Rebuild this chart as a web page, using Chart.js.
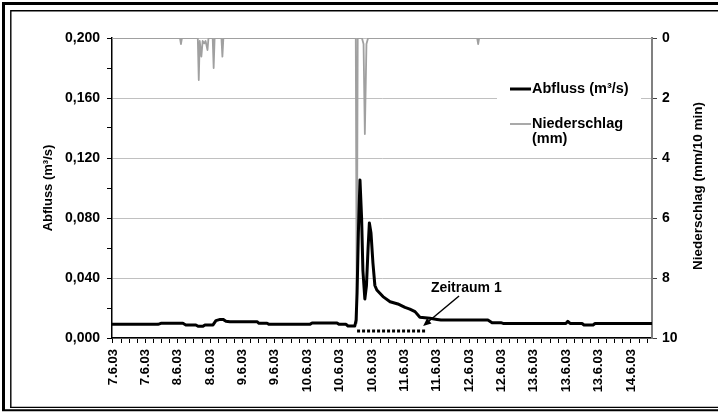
<!DOCTYPE html>
<html>
<head>
<meta charset="utf-8">
<script src="https://cdn.jsdelivr.net/npm/chart.js@4.4.1/dist/chart.umd.min.js"></script>
<style>
  html, body { margin: 0; padding: 0; background: #fff; }
  #wrap { width: 718px; height: 412px; position: relative; }
</style>
</head>
<body>
<div id="wrap"><canvas id="chart"></canvas></div>
<script>
// x values are in label steps: 0 = first "7.6.03" label, 1 = second label, ...
const dateLabels = ['7.6.03', '7.6.03', '8.6.03', '8.6.03', '9.6.03', '9.6.03', '10.6.03', '10.6.03', '10.6.03',
    '11.6.03', '11.6.03', '12.6.03', '12.6.03', '13.6.03', '13.6.03', '13.6.03', '14.6.03'];

// Abfluss (m³/s)
const abflussX = [-0.03, 1.39, 1.48, 2.16, 2.25, 2.56, 2.63, 2.78, 2.84, 3.09, 3.18, 3.31, 3.40, 3.49, 3.61,
    4.45, 4.51, 4.76, 4.82, 6.08, 6.15, 6.92, 6.98, 7.20, 7.26, 7.47, 7.51, 7.54, 7.58, 7.63, 7.68, 7.72,
    7.78, 7.83, 7.88, 7.92, 7.97, 8.03, 8.09, 8.15, 8.34, 8.56, 8.80, 9.02, 9.17, 9.33, 9.48, 9.79, 10.01,
    10.13, 11.58, 11.71, 11.98, 12.05, 13.99, 14.05, 14.12, 14.49, 14.55, 14.83, 14.89, 16.65];
const abflussY = [0.0091, 0.0091, 0.0098, 0.0098, 0.0087, 0.0087, 0.0078, 0.0078, 0.0087, 0.0087, 0.0116, 0.0124,
    0.0124, 0.0112, 0.0109, 0.0109, 0.0098, 0.0098, 0.0091, 0.0091, 0.0100, 0.0100, 0.0091, 0.0091, 0.0080,
    0.0080, 0.0120, 0.0300, 0.0700, 0.1053, 0.0800, 0.0450, 0.0260, 0.0350, 0.0600, 0.0767, 0.0700, 0.0500,
    0.0350, 0.0320, 0.0276, 0.0242, 0.0227, 0.0204, 0.0193, 0.0176, 0.0138, 0.0131, 0.0124, 0.0120, 0.0120,
    0.0102, 0.0102, 0.0097, 0.0097, 0.0111, 0.0097, 0.0097, 0.0087, 0.0087, 0.0097, 0.0097];

// Niederschlag (mm/10 min)
const regenX = [-0.03, 2.07, 2.10, 2.13, 2.62, 2.65, 2.68, 2.73, 2.77, 2.82, 2.86, 2.92, 2.95, 3.08, 3.11, 3.14,
    3.35, 3.38, 3.41, 7.50, 7.53, 7.56, 7.69, 7.74, 7.78, 7.83, 7.88, 11.25, 11.28, 11.31, 16.65];
const regenY = [0, 0, 0.2, 0, 0, 1.4, 0.1, 0.62, 0.1, 0.18, 0.1, 0.4, 0, 0, 1.0, 0,
    0, 0.62, 0, 0, 9.5, 0, 0, 0.2, 3.2, 0.2, 0, 0, 0.2, 0, 0];

// Zeitraum 1 (marked period)
const zeitraumX = [7.54, 9.67];
const zeitraumY = 0.0047;
const zeitraumText = 'Zeitraum 1';
const arrowStart = { x: 10.69, y: 0.028 };
const arrowEnd = { x: 9.58, y: 0.008 };
const textAt = { x: 9.82, y: 0.0333 };

const abflussTicks = [0, 0.04, 0.08, 0.12, 0.16, 0.2];
const regenTicks = [0, 2, 4, 6, 8, 10];

const FONT = '"Liberation Sans", Arial, sans-serif';

const toPoints = (xs, ys) => xs.map((x, i) => ({ x: x, y: ys[i] }));

// double frame round the chart (right side runs off the picture)
const framePlugin = {
    id: 'frame',
    afterDraw(chart) {
        const c = chart.ctx;
        c.save();
        c.strokeStyle = '#000';
        c.lineWidth = 3;
        c.beginPath();
        c.moveTo(3.5, 411); c.lineTo(3.5, 3.5); c.lineTo(718, 3.5);
        c.stroke();
        c.lineWidth = 2;
        c.beginPath(); c.moveTo(2, 410.3); c.lineTo(718, 410.3); c.stroke();
        c.lineWidth = 1.4;
        c.beginPath();
        c.moveTo(10.8, 407.3); c.lineTo(10.8, 10.8); c.lineTo(718, 10.8);
        c.stroke();
        c.lineWidth = 1.2;
        c.beginPath(); c.moveTo(10, 407.3); c.lineTo(718, 407.3); c.stroke();
        c.restore();
    }
};

// axis titles, both read bottom-to-top
const titlePlugin = {
    id: 'axisTitles',
    afterDraw(chart) {
        const c = chart.ctx;
        const a = chart.chartArea;
        const mid = (a.top + a.bottom) / 2;
        [['Abfluss (m³/s)', 48, 13, mid], ['Niederschlag (mm/10 min)', 698, 13.5, mid - 2]].forEach(([txt, x, size, y]) => {
            c.save();
            c.fillStyle = '#000';
            c.textAlign = 'center';
            c.textBaseline = 'middle';
            c.font = 'bold ' + size + 'px ' + FONT;
            c.translate(x, y);
            c.rotate(-Math.PI / 2);
            c.fillText(txt, 0, 0);
            c.restore();
        });
    }
};

// legend box inside the plot
const legendPlugin = {
    id: 'boxLegend',
    afterDraw(chart) {
        const c = chart.ctx;
        const ds = chart.data.datasets;
        c.save();
        c.fillStyle = '#fff';
        c.fillRect(497, 78, 144, 70);
        c.font = 'bold 14.5px ' + FONT;
        c.textBaseline = 'middle';
        c.textAlign = 'left';
        const rows = [{ y: 89, d: ds[0] }, { y: 124, d: ds[1] }];
        rows.forEach(r => {
            c.strokeStyle = r.d.borderColor;
            c.lineWidth = r.d.borderWidth;
            c.beginPath(); c.moveTo(510, r.y); c.lineTo(531, r.y); c.stroke();
            c.fillStyle = '#000';
            // wrap long labels onto a second line
            const words = r.d.label.split(' ');
            let line = '', lines = [];
            words.forEach(w => {
                const t = line ? line + ' ' + w : w;
                if (c.measureText(t).width > 105 && line) { lines.push(line); line = w; } else line = t;
            });
            lines.push(line);
            lines.forEach((l, i) => c.fillText(l, 532, r.y + i * 14.5));
        });
        c.restore();
    }
};

// "Zeitraum 1" text and arrow
const notePlugin = {
    id: 'note',
    afterDatasetsDraw(chart) {
        const c = chart.ctx;
        const xs = chart.scales.x, ys = chart.scales.y;
        const x0 = xs.getPixelForValue(arrowStart.x), y0 = ys.getPixelForValue(arrowStart.y);
        const x1 = xs.getPixelForValue(arrowEnd.x), y1 = ys.getPixelForValue(arrowEnd.y);
        const ang = Math.atan2(y1 - y0, x1 - x0);
        c.save();
        c.strokeStyle = '#000';
        c.fillStyle = '#000';
        c.lineWidth = 1.5;
        c.beginPath();
        c.moveTo(x0, y0);
        c.lineTo(x1 - 5 * Math.cos(ang), y1 - 5 * Math.sin(ang));
        c.stroke();
        c.beginPath();
        c.moveTo(x1, y1);
        c.lineTo(x1 - 8 * Math.cos(ang) + 3.5 * Math.sin(ang), y1 - 8 * Math.sin(ang) - 3.5 * Math.cos(ang));
        c.lineTo(x1 - 8 * Math.cos(ang) - 3.5 * Math.sin(ang), y1 - 8 * Math.sin(ang) + 3.5 * Math.cos(ang));
        c.closePath();
        c.fill();
        c.font = 'bold 14px ' + FONT;
        c.textAlign = 'left';
        c.textBaseline = 'middle';
        c.fillText(zeitraumText, xs.getPixelForValue(textAt.x), ys.getPixelForValue(textAt.y));
        c.restore();
    }
};

const isMajor = v => Math.round(v * 50) % 2 === 0;

const chart = new Chart(document.getElementById('chart'), {
    type: 'line',
    data: {
        datasets: [
            {
                label: 'Abfluss (m³/s)',
                data: toPoints(abflussX, abflussY),
                borderColor: '#000',
                borderWidth: 3,
                yAxisID: 'y'
            },
            {
                label: 'Niederschlag (mm)',
                data: toPoints(regenX, regenY),
                borderColor: '#a0a0a0',
                borderWidth: 1.8,
                yAxisID: 'y2'
            },
            {
                label: zeitraumText,
                data: zeitraumX.map(x => ({ x: x, y: zeitraumY })),
                borderColor: '#000',
                borderWidth: 3,
                borderDash: [3, 2],
                borderCapStyle: 'butt',
                yAxisID: 'y'
            }
        ]
    },
    options: {
        responsive: true, maintainAspectRatio: false,
        animation: false,
        layout: { padding: { top: 38, left: 0, right: 0, bottom: 0 } },
        elements: {
            point: { radius: 0, hoverRadius: 0 },
            line: { tension: 0, borderJoinStyle: 'round' }
        },
        plugins: {
            legend: { display: false },
            tooltip: { enabled: false }
        },
        scales: {
            x: {
                type: 'linear',
                min: -0.03, max: 16.65,
                afterBuildTicks(scale) {
                    const t = [];
                    for (let i = 0; i <= (dateLabels.length - 1) * 4 + 2; i++) t.push({ value: i / 4 });
                    scale.ticks = t;
                },
                afterFit(scale) { scale.height = 74; },
                ticks: {
                    autoSkip: false,
                    maxRotation: 90, minRotation: 90,
                    padding: 6,
                    color: '#000',
                    font: { family: FONT, size: 13, weight: 'bold' },
                    callback: v => Number.isInteger(v) ? dateLabels[v] : ''
                },
                grid: { drawOnChartArea: false, drawTicks: true, tickLength: 5, tickColor: '#000', tickWidth: 1 },
                border: { color: '#000', width: 1.5 }
            },
            y: {
                position: 'left',
                min: 0, max: 0.2,
                afterBuildTicks(scale) {
                    const t = [];
                    for (let i = 0; i <= 10; i++) t.push({ value: i / 50 });
                    scale.ticks = t;
                },
                afterFit(scale) { scale.width = 112; },
                ticks: {
                    padding: 7,
                    color: '#000',
                    font: { family: FONT, size: 14, weight: 'bold' },
                    callback: v => abflussTicks.some(t => Math.abs(t - v) < 1e-9) ? v.toFixed(3).replace('.', ',') : ''
                },
                grid: {
                    color: ctx => (ctx.tick && isMajor(ctx.tick.value) ? '#c0c0c0' : 'rgba(0,0,0,0)'),
                    lineWidth: 1,
                    tickLength: 5,
                    tickColor: '#000'
                },
                border: { color: '#000', width: 1.5 }
            },
            y2: {
                position: 'right',
                reverse: true,
                min: regenTicks[0], max: regenTicks[regenTicks.length - 1],
                afterFit(scale) { scale.width = 66; },
                ticks: {
                    stepSize: 2,
                    padding: 5,
                    color: '#000',
                    font: { family: FONT, size: 14, weight: 'bold' }
                },
                grid: { drawOnChartArea: false, tickLength: 5, tickColor: '#404040' },
                border: { color: '#808080', width: 2 }
            }
        }
    },
    plugins: [notePlugin, titlePlugin, legendPlugin, framePlugin]
});
</script>
</body>
</html>
